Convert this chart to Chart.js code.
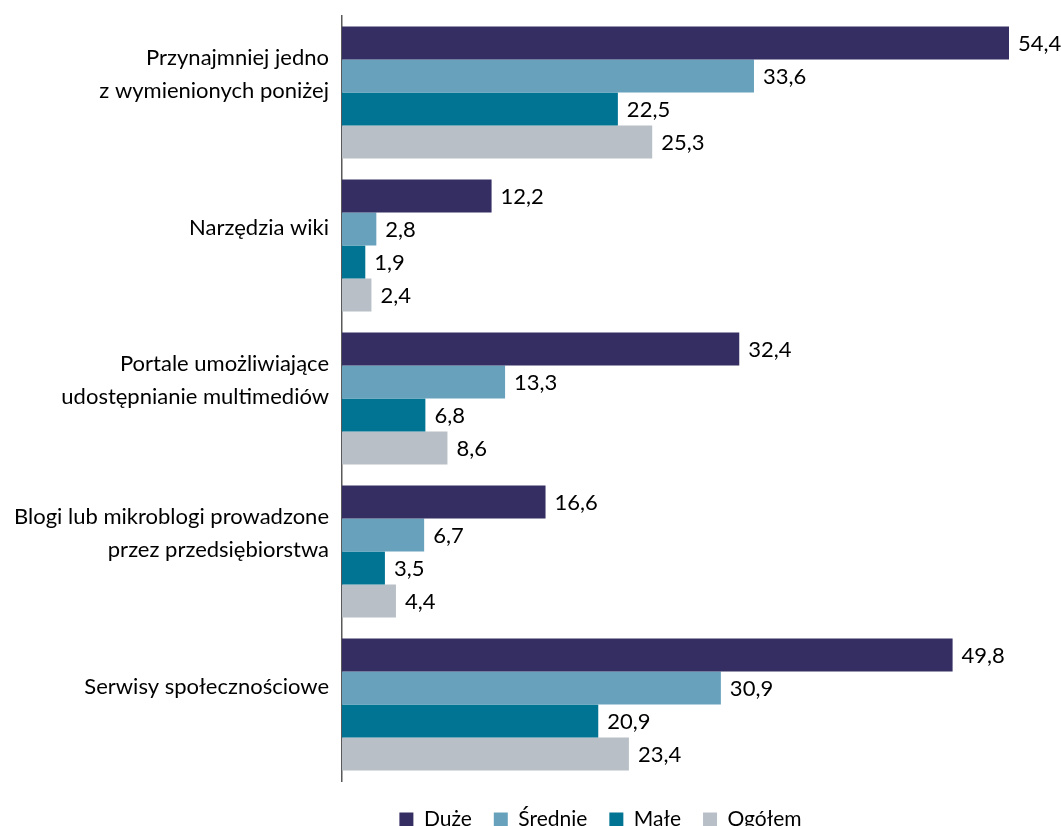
<!DOCTYPE html>
<html lang="pl">
<head>
<meta charset="utf-8">
<title>Wykres</title>
<script src="https://cdn.jsdelivr.net/npm/chart.js@4.4.1/dist/chart.umd.min.js"></script>
<style>
  html, body { margin: 0; padding: 0; background: #ffffff; overflow: hidden; }
  #wrap { width: 1061px; height: 840px; }
</style>
</head>
<body>
<div id="wrap"><canvas id="chart" width="1061" height="840"></canvas></div>
<script>
// Categories (multi-line labels as in the original)
const categories = [
  ['Przynajmniej jedno', 'z wymienionych poniżej'],
  ['Narzędzia wiki'],
  ['Portale umożliwiające', 'udostępnianie multimediów'],
  ['Blogi lub mikroblogi prowadzone', 'przez przedsiębiorstwa'],
  ['Serwisy społecznościowe']
];

// Series values (%)
const duze    = [54.4, 12.2, 32.4, 16.6, 49.8];
const srednie = [33.6, 2.8, 13.3, 6.7, 30.9];
const male    = [22.5, 1.9, 6.8, 3.5, 20.9];
const ogolem  = [25.3, 2.4, 8.6, 4.4, 23.4];

const seriesNames = ['Duże', 'Średnie', 'Małe', 'Ogółem'];

const FONT = "Lato, 'Open Sans', sans-serif";

// Draws value labels just past the end of each bar (Polish decimal comma)
const valueLabels = {
  id: 'valueLabels',
  afterDatasetsDraw(chart) {
    const { ctx } = chart;
    ctx.save();
    ctx.font = '22px ' + FONT;
    ctx.fillStyle = '#000000';
    ctx.textAlign = 'left';
    ctx.textBaseline = 'middle';
    chart.data.datasets.forEach((ds, i) => {
      const meta = chart.getDatasetMeta(i);
      meta.data.forEach((bar, j) => {
        const txt = ds.data[j].toFixed(1).replace('.', ',');
        ctx.fillText(txt, bar.x + 9, bar.y + 1);
      });
    });
    ctx.restore();
  }
};

// The legend in the original sits right of the page centre and a bit lower
const legendShift = {
  id: 'legendShift',
  afterLayout(chart) {
    const lg = chart.legend;
    if (lg) {
      lg.left += 96;
      lg.right += 96;
      lg.top += 6;
      lg.bottom += 6;
    }
  }
};

new Chart(document.getElementById('chart'), {
  type: 'bar',
  data: {
    labels: categories,
    datasets: [
      { label: seriesNames[0], data: duze,    backgroundColor: '#352e62' },
      { label: seriesNames[1], data: srednie, backgroundColor: '#67a1bb' },
      { label: seriesNames[2], data: male,    backgroundColor: '#017393' },
      { label: seriesNames[3], data: ogolem,  backgroundColor: '#b8bfc6' }
    ]
  },
  options: {
    indexAxis: 'y',
    responsive: false,
    animation: false,
    datasets: {
      bar: {
        categoryPercentage: 0.863,
        barPercentage: 1.0,
        borderWidth: 0
      }
    },
    layout: {
      padding: { top: 16, left: 0, right: 52, bottom: 6 }
    },
    plugins: {
      legend: {
        display: true,
        position: 'bottom',
        labels: {
          boxWidth: 14,
          boxHeight: 14,
          padding: 22,
          color: '#000000',
          font: { family: FONT, size: 21 }
        }
      },
      tooltip: { enabled: false }
    },
    scales: {
      x: {
        display: false,
        min: 0,
        max: 54.4
      },
      y: {
        afterFit(scale) {
          scale.width = 342;
          scale.paddingTop = 0;
          scale.paddingBottom = 0;
        },
        grid: { display: false, drawTicks: false },
        border: { display: true, color: '#595959', width: 1.5 },
        ticks: {
          padding: 13,
          labelOffset: -18,
          color: '#000000',
          font: { family: FONT, size: 22, lineHeight: 1.5 }
        }
      }
    }
  },
  plugins: [valueLabels, legendShift]
});
</script>
</body>
</html>
